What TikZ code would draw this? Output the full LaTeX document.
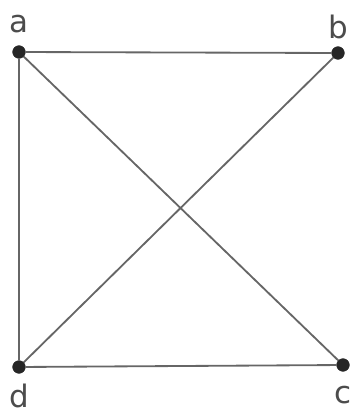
\documentclass[tikz,border=0pt]{standalone}
\usepackage{fontspec}
\setmainfont{DejaVu Sans}
\begin{document}
\begin{tikzpicture}[x=0.025cm,y=-0.025cm,
    vertex/.style={draw=black!85,circle,fill=black!85,inner sep=0pt,minimum size=9pt},
    vlabel/.style={font=\fontsize{22}{26}\selectfont,text=black!70,inner sep=0.5pt},
    edge/.style={draw=black!60,line width=1.3pt}]
    \useasboundingbox (0,0) rectangle (354,415);
        \node[vertex,label={[vlabel,label distance=8.5pt]90:a}] at (19,52) (a) {};
        \node[vertex,label={[vlabel,label distance=4.5pt]90:b}] at (338,53) (b) {};
        \node[vertex,label={[vlabel,label distance=10pt]-90:c}] at (343,365) (c) {};
        \node[vertex,label={[vlabel,label distance=7pt]-90:d}] at (19,367) (d) {};
        \draw[edge] (a) -- (b);
        \draw[edge] (a) -- (d) -- (c);
        \draw[edge] (a) -- (c);
        \draw[edge] (d) -- (b);
    \end{tikzpicture}
\end{document}
